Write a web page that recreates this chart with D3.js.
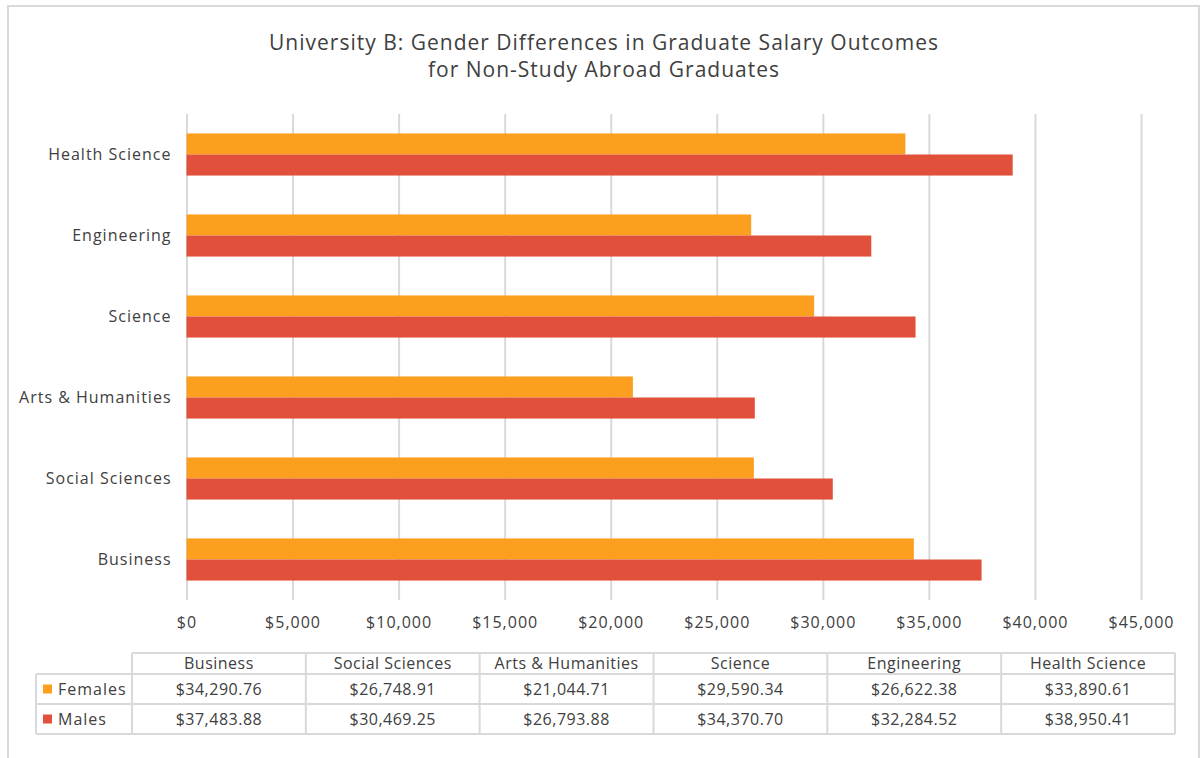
<!DOCTYPE html>
<html>
<head>
<meta charset="utf-8">
<script src="https://cdn.jsdelivr.net/npm/d3@7"></script>
<style>
  body { margin: 0; background: #fff; }
  svg { display: block; font-family: "Open Sans", Lato, sans-serif; }
  .tick text { fill: #404040; }
</style>
</head>
<body>
<svg width="1202" height="758"></svg>
<script>
// data (from the data table under the chart)
var categories = ["Business", "Social Sciences", "Arts & Humanities", "Science", "Engineering", "Health Science"];
var seriesNames = ["Females", "Males"];
var females = [34290.76, 26748.91, 21044.71, 29590.34, 26622.38, 33890.61];
var males = [37483.88, 30469.25, 26793.88, 34370.70, 32284.52, 38950.41];
var xTicks = [0, 5000, 10000, 15000, 20000, 25000, 30000, 35000, 40000, 45000];
var colors = ["#FD9F1E", "#E0503A"];

var svg = d3.select("svg");
var textColor = "#404040";
var gridColor = "#d9d9d9";

// outer frame
svg.append("rect")
    .attr("x", 8).attr("y", 6)
    .attr("width", 1191).attr("height", 760)
    .attr("fill", "none")
    .attr("stroke", gridColor)
    .attr("stroke-width", 2);

// title
var title = svg.append("text")
    .attr("text-anchor", "middle")
    .attr("fill", textColor)
    .style("font-size", "21px")
    .style("letter-spacing", "1px");
title.append("tspan").attr("x", 604).attr("y", 50).text("University B: Gender Differences in Graduate Salary Outcomes");
title.append("tspan").attr("x", 604).attr("y", 77).text("for Non-Study Abroad Graduates");

var x0 = 186.5, x1 = 1141, yTop = 114, yBottom = 600;

var xScale = d3.scaleLinear().domain([0, 45000]).range([x0, x1]);
var yScale = d3.scaleBand()
    .domain(categories.slice().reverse())
    .range([yTop, yBottom])
    .paddingInner(0.48)
    .paddingOuter(0.24);
var ySub = d3.scaleBand().domain(seriesNames).range([0, yScale.bandwidth()]);

// gridlines + x labels
var xAxis = svg.append("g")
    .attr("transform", "translate(0," + yBottom + ")")
    .call(d3.axisBottom(xScale)
        .tickValues(xTicks)
        .tickSize(-(yBottom - yTop))
        .tickPadding(17)
        .tickFormat(function(d) { return "$" + d3.format(",")(d); }));
xAxis.attr("font-family", null).attr("font-size", null);
xAxis.select(".domain").remove();
xAxis.selectAll(".tick line").attr("stroke", gridColor).attr("stroke-width", 2);
xAxis.selectAll(".tick text").style("font-size", "16px").style("letter-spacing", "1px").attr("fill", textColor);

// category labels
var yAxis = svg.append("g")
    .attr("transform", "translate(" + x0 + ",0)")
    .call(d3.axisLeft(yScale).tickSize(0).tickPadding(15));
yAxis.attr("font-family", null).attr("font-size", null);
yAxis.select(".domain").remove();
yAxis.selectAll(".tick text").style("font-size", "16px").style("letter-spacing", "1px").attr("fill", textColor);

// bars
var rows = categories.map(function(c, i) {
    return {cat: c, values: [females[i], males[i]]};
});

var groups = svg.selectAll(".grp")
    .data(rows)
    .enter()
    .append("g")
    .attr("class", "grp")
    .attr("transform", function(d) { return "translate(0," + yScale(d.cat) + ")"; });

groups.selectAll("rect")
    .data(function(d) { return d.values.map(function(v, j) { return {name: seriesNames[j], v: v, j: j}; }); })
    .enter()
    .append("rect")
    .attr("x", xScale(0))
    .attr("y", function(d) { return ySub(d.name); })
    .attr("width", function(d) { return xScale(d.v) - xScale(0); })
    .attr("height", ySub.bandwidth())
    .attr("fill", function(d) { return colors[d.j]; });

// data table
var colScale = d3.scaleBand().domain(categories).range([132, 1175]);
var tTop = 653, hRow = 21, dRow = 30;
var legLeft = 36;
var fmt = d3.format("$,.2f");
var table = svg.append("g");

function hline(xa, xb, y) {
    table.append("line").attr("x1", xa).attr("x2", xb).attr("y1", y).attr("y2", y)
        .attr("stroke", gridColor).attr("stroke-width", 2);
}
function vline(x, ya, yb) {
    table.append("line").attr("x1", x).attr("x2", x).attr("y1", ya).attr("y2", yb)
        .attr("stroke", gridColor).attr("stroke-width", 2);
}

var r1 = tTop + hRow, r2 = r1 + dRow, r3 = r2 + dRow;
hline(132, 1175, tTop);
hline(legLeft, 1175, r1);
hline(legLeft, 1175, r2);
hline(legLeft, 1175, r3);
vline(legLeft, r1, r3);
categories.forEach(function(c) { vline(colScale(c), tTop, r3); });
vline(1175, tTop, r3);

table.selectAll(".hdr")
    .data(categories)
    .enter()
    .append("text")
    .attr("x", function(d) { return colScale(d) + colScale.bandwidth() / 2; })
    .attr("y", tTop + hRow / 2)
    .attr("dy", "0.35em")
    .attr("text-anchor", "middle")
    .attr("fill", textColor)
    .style("font-size", "16px")
    .style("letter-spacing", "0.5px")
    .text(function(d) { return d; });

[females, males].forEach(function(vals, j) {
    var yc = r1 + dRow * j + dRow / 2;
    table.append("rect")
        .attr("x", 43).attr("y", yc - 4.5)
        .attr("width", 9).attr("height", 9)
        .attr("fill", colors[j]);
    table.append("text")
        .attr("x", 58).attr("y", yc).attr("dy", "0.35em")
        .attr("fill", textColor)
        .style("font-size", "16px")
        .style("letter-spacing", "1px")
        .text(seriesNames[j]);
    table.selectAll(".v" + j)
        .data(vals)
        .enter()
        .append("text")
        .attr("x", function(d, i) { return colScale(categories[i]) + colScale.bandwidth() / 2; })
        .attr("y", yc)
        .attr("dy", "0.35em")
        .attr("text-anchor", "middle")
        .attr("fill", textColor)
        .style("font-size", "16px")
        .style("letter-spacing", "0.5px")
        .text(function(d) { return fmt(d); });
});
</script>
</body>
</html>
